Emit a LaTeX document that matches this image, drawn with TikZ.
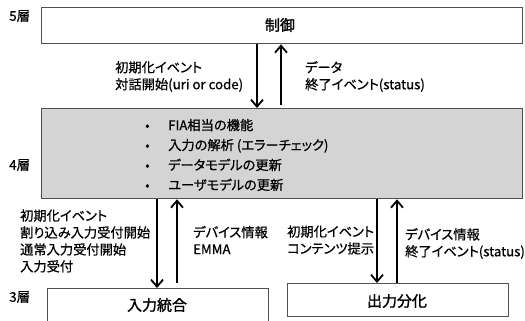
\documentclass[tikz,border=0pt]{standalone}
\usepackage{fontspec}
\setmainfont{Noto Sans CJK JP}[RawFeature=+palt]
\newfontfamily\jpm{Noto Sans CJK JP}[RawFeature=+palt, FakeBold=0.8]
\newfontfamily\jpb{Noto Sans CJK JP}[RawFeature=+palt, FakeBold=1.6]
\usetikzlibrary{arrows.meta}
\definecolor{boxline}{RGB}{80,80,80}
\definecolor{boxfill}{RGB}{212,212,212}
\begin{document}
\begin{tikzpicture}[x=1bp,y=-1bp,
  box/.style={draw=boxline, line width=1.3bp, inner sep=0, anchor=north west},
  arr/.style={line width=1.8bp, -{Straight Barb[length=7bp,width=12bp]}},
  lbl/.style={font=\jpm\fontsize{13.3}{17}\selectfont, align=left, anchor=west, inner sep=0},
  lay/.style={font=\jpm\fontsize{13.5}{17}\selectfont, anchor=west, inner sep=0},
  ttl/.style={font=\jpb\fontsize{15}{17}\selectfont, inner sep=0},
]
\useasboundingbox (0,0) rectangle (525,320);
\clip (0,0) rectangle (525,320);
% boxes
\node[box, minimum width=481bp, minimum height=36bp] (ctrl) at (41,7) {};
\node[ttl] (ctrlt) at (280,25) {制御};
\node[box, fill=boxfill, minimum width=481bp, minimum height=90bp] (dlg) at (41,108) {};
\node[box, minimum width=221bp, minimum height=50bp] (inp) at (47,288) {};
\node[ttl] (inpt) at (157,305) {入力統合};
\node[box, minimum width=221bp, minimum height=33bp] (outp) at (287,283) {};
\node[ttl] (outpt) at (397,301) {出力分化};
% layer labels
\node[lay] (L5) at (9,16) {5層};
\node[lay] (L4) at (9,165) {4層};
\node[lay] (L3) at (9,297) {3層};
% bullet list
\node[lbl, font=\jpm\fontsize{13.3}{20}\selectfont] (fn) at (145,155)
  {\makebox[23bp][l]{•}FIA相当の機能\\
   \makebox[23bp][l]{•}入力の解析 (エラーチェック)\\
   \makebox[23bp][l]{•}データモデルの更新\\
   \makebox[23bp][l]{•}ユーザモデルの更新};
% arrow positions
\coordinate (a1) at (257,0);
\coordinate (a2) at (281,0);
\coordinate (b1) at (157,0);
\coordinate (b2) at (177,0);
\coordinate (c1) at (377,0);
\coordinate (c2) at (397,0);
\draw[arr] (ctrl.south -| a1) -- (dlg.north -| a1);
\draw[arr] ([yshift=3bp]dlg.north -| a2) -- (ctrl.south -| a2);
\draw[arr] (dlg.south -| b1) -- (inp.north -| b1);
\draw[arr] ([yshift=5bp]inp.north -| b2) -- (dlg.south -| b2);
\draw[arr] (dlg.south -| c1) -- (outp.north -| c1);
\draw[arr] (outp.north -| c2) -- (dlg.south -| c2);
% labels
\node[lbl] (l1) at (115,76.5) {初期化イベント\\対話開始(uri or code)};
\node[lbl] (l2) at (305,76.5) {データ\\終了イベント(status)};
\node[lbl] (l3) at (20,241) {初期化イベント\\割り込み入力受付開始\\通常入力受付開始\\入力受付};
\node[lbl] (l4) at (193,240) {デバイス情報\\EMMA};
\node[lbl] (l5) at (287,240) {初期化イベント\\コンテンツ提示};
\node[lbl] (l6) at (405,243.5) {デバイス情報\\終了イベント(status)};
\end{tikzpicture}
\end{document}
